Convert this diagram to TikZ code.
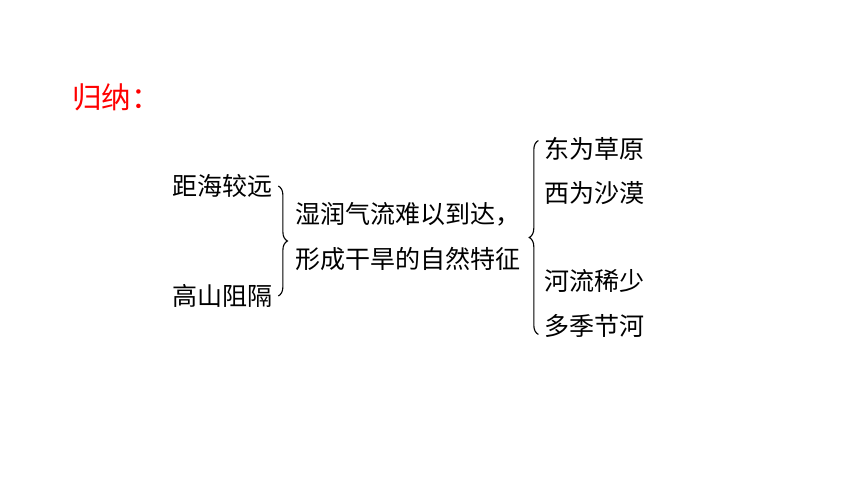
\documentclass[tikz,border=0pt]{standalone}
\usepackage{fontspec}
\newfontfamily\cjk{Noto Sans CJK SC}
\usetikzlibrary{decorations.pathreplacing}
\tikzset{item/.style={anchor=west,inner sep=0pt,font=\cjk\fontsize{17.8}{20}\selectfont},
 title/.style={anchor=west,inner sep=0pt,text=red,font=\cjk\fontsize{21}{24}\selectfont},
 brc/.style={decorate,decoration={brace,amplitude=6.5pt},line width=0.8pt}}
\begin{document}
\begin{tikzpicture}[x=0.025cm,y=-0.025cm]
\useasboundingbox (0,0) rectangle (860,484);
\node[title] (sum) at (72,97) {归纳：};
% causes
\node[item] (far) at (172,186) {距海较远};
\node[item] (mtn) at (172,296) {高山阻隔};
% result
\node[item] (res1) at (295,214) {湿润气流难以到达，};
\node[item] (res2) at (295,259) {形成干旱的自然特征};
% effects
\node[item] (e1) at (544,149) {东为草原};
\node[item] (e2) at (544,193) {西为沙漠};
\node[item] (e3) at (544,281) {河流稀少};
\node[item] (e4) at (544,326) {多季节河};
\coordinate (b1t) at ([xshift=4pt]far.east);
\coordinate (b1b) at ([xshift=4pt]mtn.east);
\coordinate (b2t) at ([xshift=-4pt,yshift=6pt]e1.west);
\coordinate (b2b) at ([xshift=-4pt,yshift=-6pt]e4.west);
\draw[brc] (b1t)--(b1b);
\draw[brc] (b2b)--(b2t);
\end{tikzpicture}
\end{document}
